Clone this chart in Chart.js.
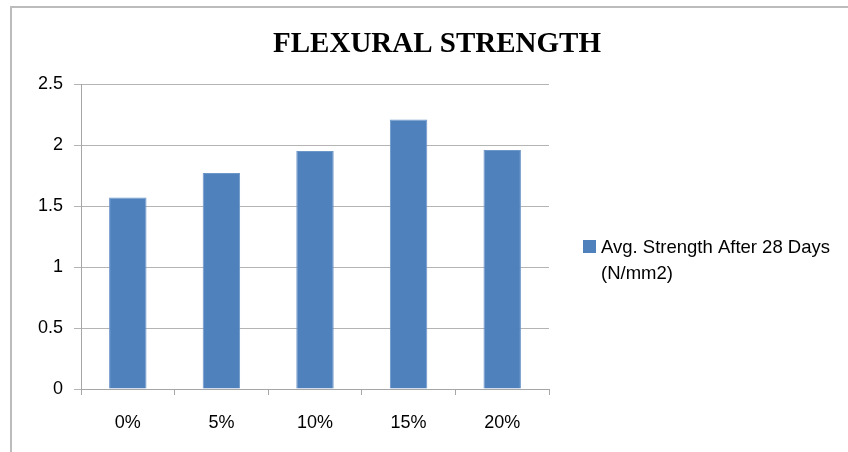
<!DOCTYPE html>
<html>
<head>
<meta charset="utf-8">
<script src="https://cdn.jsdelivr.net/npm/chart.js@4"></script>
<style>
  html, body { margin: 0; padding: 0; background: #fff; }
  #wrap { position: relative; width: 848px; height: 452px; }
</style>
</head>
<body>
<div id="wrap"><canvas id="c" width="848" height="452"></canvas></div>
<script>
const chartTitle = "FLEXURAL STRENGTH";
const categories = ["0%", "5%", "10%", "15%", "20%"];
const seriesLabel = ["Avg. Strength After 28 Days", "(N/mm2)"];
const strengthValues = [1.57, 1.77, 1.95, 2.21, 1.96];
const yMin = 0, yMax = 2.5, yStep = 0.5;

const BAR = '#4f81bd';
const TXT_FONT = "'Liberation Sans', Arial, sans-serif";

const framePlugin = {
  id: 'frame',
  beforeDraw(chart) {
    const ctx = chart.ctx;
    ctx.save();
    ctx.fillStyle = '#fff';
    ctx.fillRect(0, 0, chart.width, chart.height);
    ctx.strokeStyle = '#bcbcbc';
    ctx.lineWidth = 2;
    ctx.beginPath();
    ctx.moveTo(11, chart.height);
    ctx.lineTo(11, 7);
    ctx.lineTo(chart.width, 7);
    ctx.stroke();
    ctx.restore();
  },
  afterDraw(chart) {
    const ctx = chart.ctx;
    ctx.save();
    // title
    ctx.fillStyle = '#000';
    ctx.font = "bold 29px 'Liberation Serif', 'Times New Roman', serif";
    ctx.textAlign = 'center';
    ctx.textBaseline = 'alphabetic';
    ctx.fillText(chartTitle, 437, 52);
    // legend
    const ds = chart.data.datasets[0];
    ctx.fillStyle = ds.backgroundColor;
    ctx.fillRect(583, 240, 13, 13);
    ctx.fillStyle = '#000';
    ctx.font = "18.5px " + TXT_FONT;
    ctx.textAlign = 'left';
    ctx.textBaseline = 'alphabetic';
    const lines = ds.legendLines;
    lines.forEach((l, i) => ctx.fillText(l, 601, 253 + i * 25.7));
    ctx.restore();
  }
};

new Chart(document.getElementById('c'), {
  type: 'bar',
  data: {
    labels: categories,
    datasets: [{
      label: seriesLabel.join(' '),
      legendLines: seriesLabel,
      data: strengthValues,
      backgroundColor: BAR,
      borderColor: '#6d96c9',
      borderWidth: 1,
      categoryPercentage: 1.0,
      barPercentage: 0.4
    }]
  },
  plugins: [framePlugin],
  options: {
    responsive: false,
    animation: false,
    devicePixelRatio: 1,
    layout: { padding: { left: 10, right: 299, top: 84, bottom: 0 } },
    plugins: {
      legend: { display: false },
      title: { display: false },
      tooltip: { enabled: false }
    },
    scales: {
      x: {
        offset: true,
        grid: {
          display: true,
          drawOnChartArea: false,
          drawTicks: true,
          tickLength: 6,
          color: '#a6a6a6',
          offset: true
        },
        border: { display: true, color: '#a6a6a6', width: 1 },
        ticks: {
          color: '#000',
          font: { family: TXT_FONT, size: 18 },
          padding: 17
        },
        afterFit(scale) { scale.height = 63; }
      },
      y: {
        min: yMin, max: yMax,
        grid: {
          color: '#b4b4b4',
          lineWidth: 1,
          tickLength: 7
        },
        border: { display: true, color: '#a6a6a6', width: 1 },
        ticks: {
          stepSize: yStep,
          color: '#000',
          font: { family: TXT_FONT, size: 18 },
          padding: 11,
          callback: v => String(v)
        },
        afterFit(scale) { scale.width = 71; }
      }
    }
  }
});
</script>
</body>
</html>
